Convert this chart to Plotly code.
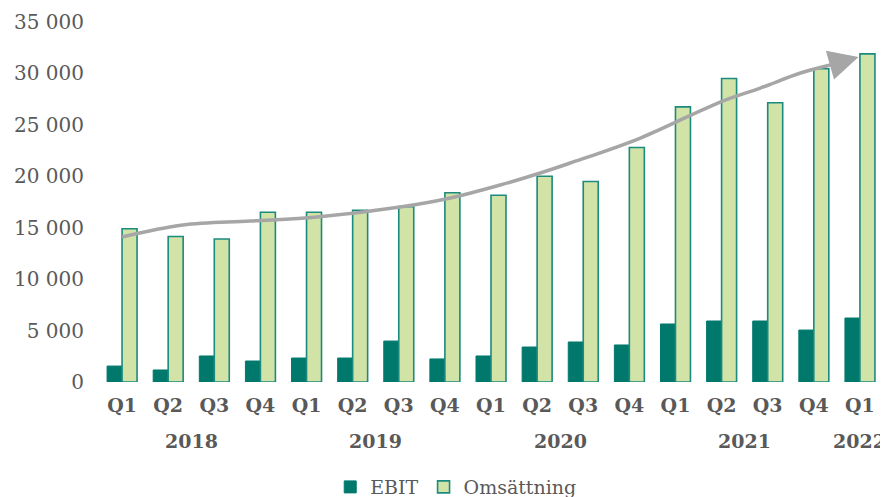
import plotly.graph_objects as go

# ---- data ----
years = ["2018"] * 4 + ["2019"] * 4 + ["2020"] * 4 + ["2021"] * 4 + ["2022"]
quarters = ["Q1", "Q2", "Q3", "Q4"] * 4 + ["Q1"]
ebit = [1550, 1170, 2530, 2040,
        2330, 2330, 3980, 2240,
        2530, 3400, 3890, 3600,
        5640, 5930, 5930, 5050,
        6220]
omsattning = [14900, 14150, 13900, 16500,
              16500, 16700, 17050, 18400,
              18150, 20000, 19500, 22800,
              26750, 29500, 27150, 30450,
              31900]
# trend arrow path (category index, value); last point is the arrow tip
trend_x = [0.0, 1.32, 2.78, 4.23, 6.03, 7.12, 8.2, 9.07, 9.72, 11.24, 12.97, 13.84, 14.71, 15.36, 15.97]
trend_y = [14100, 15260, 15650, 16040, 17010, 17890, 19150, 20320, 21290, 23720, 27220, 28580, 30040, 30820, 31600]
y_ticks = [0, 5000, 10000, 15000, 20000, 25000, 30000, 35000]

FONT = "DejaVu Serif"
GREY = "#595959"

idx = list(range(len(quarters)))

fig = go.Figure()
fig.add_trace(go.Bar(
    x=idx, y=ebit, name="EBIT",
    marker=dict(color="#00796C", line=dict(color="#00796C", width=1)),
))
fig.add_trace(go.Bar(
    x=idx, y=omsattning, name="Omsättning",
    marker=dict(color="#D1E3A7", line=dict(color="#1B8A7F", width=1.6)),
))
fig.add_trace(go.Scatter(
    x=trend_x[:-1], y=trend_y[:-1],
    mode="lines", line=dict(color="#A6A6A6", width=3.5, shape="spline"),
    showlegend=False, hoverinfo="skip",
))
fig.add_annotation(
    x=trend_x[-1], y=trend_y[-1], ax=trend_x[-2], ay=trend_y[-2],
    xref="x", yref="y", axref="x", ayref="y",
    showarrow=True, arrowhead=2, arrowsize=1.7, arrowwidth=3.5,
    arrowcolor="#A6A6A6", text="",
)

# year labels centred under their quarters
year_names = []
for y in years:
    if y not in year_names:
        year_names.append(y)
for yname in year_names:
    pos = [i for i, y in enumerate(years) if y == yname]
    fig.add_annotation(
        x=sum(pos) / len(pos), y=0, xref="x", yref="paper",
        yshift=-59, yanchor="middle", showarrow=False, text=yname,
        font=dict(family=FONT, size=19, color=GREY, weight="bold"),
    )

# page body adds an 8px margin, so the figure is 8px smaller each way
fig.update_layout(
    width=880, height=489,
    margin=dict(l=91, r=5, t=14, b=115, autoexpand=False),
    paper_bgcolor="white", plot_bgcolor="white",
    separators=", ",
    barmode="group", bargap=0.35, bargroupgap=0,
    font=dict(family=FONT, color=GREY, size=18),
    xaxis=dict(
        range=[-0.5, len(quarters) - 0.5],
        tickmode="array", tickvals=idx, ticktext=quarters,
        showgrid=False, showline=False, zeroline=False, ticks="",
        automargin=False, ticklabelstandoff=10,
        tickfont=dict(family=FONT, size=19, color=GREY, weight="bold"),
    ),
    yaxis=dict(
        range=[0, 35000], tickvals=y_ticks, tickformat=",d",
        showgrid=False, zeroline=False, showline=False,
        automargin=False, ticklabelstandoff=14,
        tickfont=dict(family=FONT, size=20, color=GREY),
    ),
    legend=dict(
        orientation="h", x=0.455, xanchor="center", y=-0.239, yanchor="top",
        font=dict(family=FONT, size=19, color=GREY),
        itemwidth=30, traceorder="normal",
    ),
)

fig.write_html("out.html")
